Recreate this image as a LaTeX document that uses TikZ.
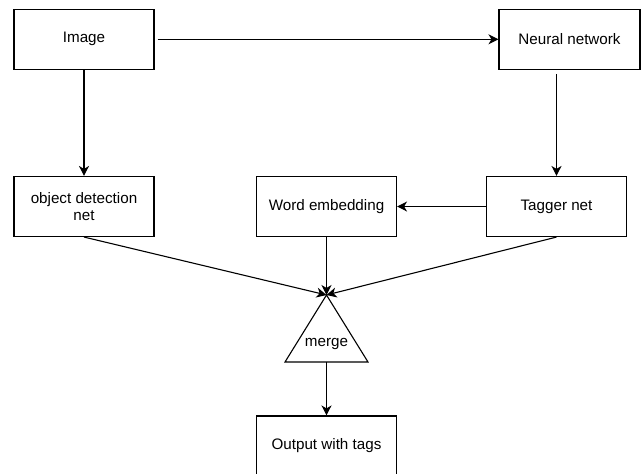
\documentclass[tikz,border=0pt]{standalone}
\usepackage{fontspec}
\setmainfont{Liberation Sans}
\usetikzlibrary{arrows.meta}
\begin{document}
\begin{tikzpicture}[x=1pt,y=-1pt,
box/.style={draw,line width=1.1pt,minimum width=140pt,minimum height=60pt,inner sep=0pt,align=center,font=\fontsize{15.2}{17.5}\selectfont},
arr/.style={-{Stealth[length=10pt,width=10pt,inset=3pt]},line width=1.1pt}]
\clip (0,0) rectangle (641,474);
\fill[white] (0,0) rectangle (641,474);
\node[box] (img) at (84,39.3) {Image};
\node[box,minimum width=141pt] (nn) at (569.5,39.3) {Neural network};
\node[box] (objdet) at (84,206.5) {object detection\\net};
\node[box] (wordemb) at (326.5,206.5) {Word embedding};
\node[box] (tagger) at (556.5,206.5) {Tagger net};
\node[box] (output) at (326.5,446) {Output with tags};
\coordinate (mtop) at (326.5,295);
\coordinate (mbase) at (326.5,362);
\draw[line width=1.1pt] (mtop) -- (368,362) -- (285,362) -- cycle;
\node[font=\fontsize{15.2}{17.5}\selectfont] (merge) at (326.5,344) {merge};
\draw[arr,shorten <=3pt] (img) -- (nn);
\draw[arr] (img) -- (objdet);
\draw[arr,shorten <=4pt] (nn.south -| tagger.north) -- (tagger.north);
\draw[arr] (tagger) -- (wordemb);
\draw[arr] (objdet.south) -- (mtop);
\draw[arr] (wordemb.south) -- (mtop);
\draw[arr] (tagger.south) -- (mtop);
\draw[arr] (mbase) -- (output.north);
\end{tikzpicture}
\end{document}
